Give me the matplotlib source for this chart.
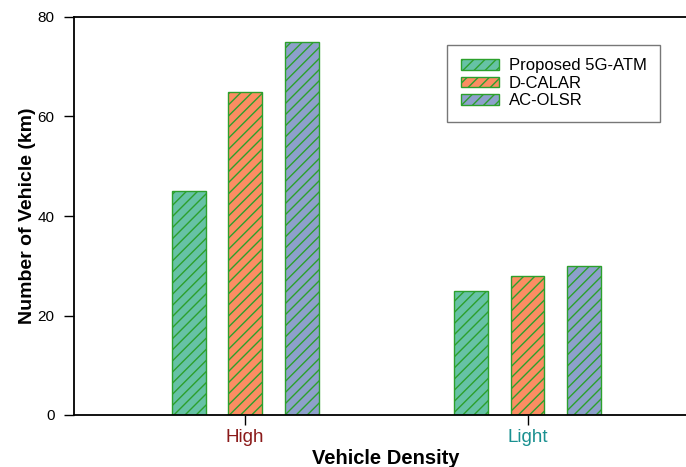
import matplotlib.pyplot as plt
import numpy as np

plt.rcParams['font.family'] = ['Liberation Sans', 'DejaVu Sans']
plt.rcParams['hatch.linewidth'] = 1.0
plt.rcParams['hatch.color'] = '#1a801a'

groups = ['High', 'Light']
series = ['Proposed 5G-ATM', 'D-CALAR', 'AC-OLSR']
proposed = [45, 25]
dcalar = [65, 28]
acolsr = [75, 30]
colors = ['#66c2a5', '#fc8d62', '#8da0cb']

fig = plt.figure(figsize=(6.86, 4.67), dpi=100)
ax = fig.add_axes([74/686, 1 - 415/467, 623/686, 398/467])

x = np.array([1, 2])
w = 0.12
for i, (vals, name) in enumerate(zip([proposed, dcalar, acolsr], series)):
    ax.bar(x + (i - 1) * 0.2, vals, w, color=colors[i], edgecolor='#2ca02c',
           linewidth=1.0, hatch='///', label=name)

ax.set_xlim(0.394, 2.6)
ax.set_ylim(0, 80)
ax.set_yticks([0, 20, 40, 60, 80])
ax.set_xticks(x)
ax.set_xticklabels(groups, fontsize=13.5)
ax.get_xticklabels()[0].set_color('#8b1a1a')
ax.get_xticklabels()[1].set_color('#1a9090')
ax.tick_params(axis='y', labelsize=11, length=7, width=1, pad=7)
ax.tick_params(axis='x', length=7, width=1, pad=3)
ax.spines['right'].set_visible(False)
for s in ['left', 'bottom', 'top']:
    ax.spines[s].set_linewidth(1.3)

ax.set_xlabel('Vehicle Density', fontsize=14.5, fontweight='bold', labelpad=2)
ax.set_ylabel('Number of Vehicle (km)', fontsize=14, fontweight='bold', labelpad=1)

leg = ax.legend(loc='upper left', bbox_to_anchor=(0.599, 0.93), fontsize=12,
                fancybox=False, edgecolor='#555555', borderpad=0.8,
                handlelength=2.3, handleheight=0.6, labelspacing=0.15,
                handletextpad=0.6, borderaxespad=0)
leg.get_frame().set_linewidth(1.0)

fig.savefig('out.png', dpi=100)
